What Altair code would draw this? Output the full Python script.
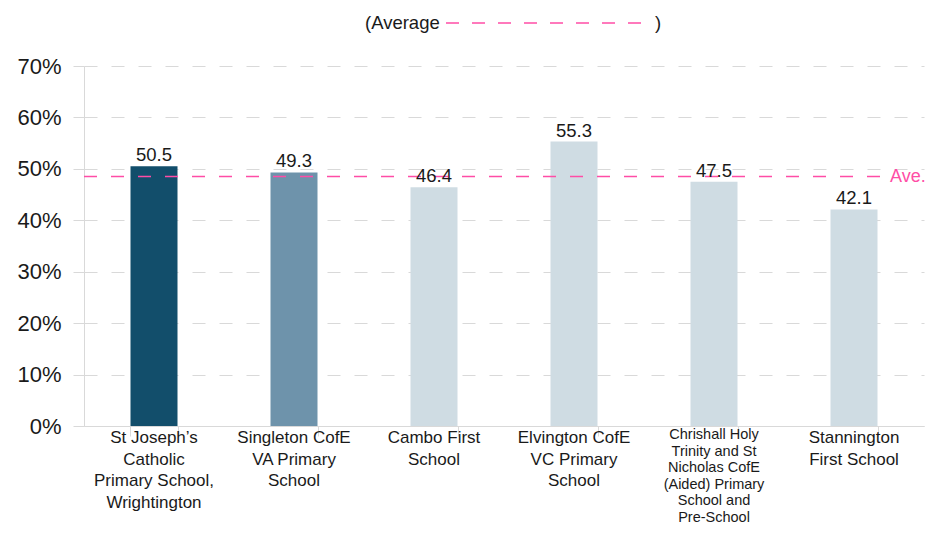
import altair as alt
import pandas as pd

schools = [
    "St Joseph’s Catholic Primary School, Wrightington",
    "Singleton CofE VA Primary School",
    "Cambo First School",
    "Elvington CofE VC Primary School",
    "Chrishall Holy Trinity and St Nicholas CofE (Aided) Primary School and Pre-School",
    "Stannington First School",
]
labels = [
    "St Joseph’s\nCatholic\nPrimary School,\nWrightington",
    "Singleton CofE\nVA Primary\nSchool",
    "Cambo First\nSchool",
    "Elvington CofE\nVC Primary\nSchool",
    "Chrishall Holy\nTrinity and St\nNicholas CofE\n(Aided) Primary\nSchool and\nPre-School",
    "Stannington\nFirst School",
]
values = [50.5, 49.3, 46.4, 55.3, 47.5, 42.1]
bar_colors = ["#124E6B", "#6E93AB", "#CFDCE3", "#CFDCE3", "#CFDCE3", "#CFDCE3"]
small_label = [False, False, False, False, True, False]
average = 48.5
y_ticks = [0, 10, 20, 30, 40, 50, 60, 70]

PINK = "#FF4DA6"
GRID = "#D9D9D9"
FONT = "Liberation Sans"
TXT = "#1a1a1a"

df = pd.DataFrame({
    "school": schools,
    "label": labels,
    "value": values,
    "color": bar_colors,
    "small": small_label,
})
avg_df = pd.DataFrame({"avg": [average]})

x_enc = alt.X(
    "school:N",
    sort=schools,
    scale=alt.Scale(paddingInner=0.664, paddingOuter=0.332),
    axis=alt.Axis(
        labels=False, title=None, tickBand="extent", ticks=True, tickSize=10,
        tickColor=GRID, domainColor=GRID, grid=False,
    ),
)
y_enc = alt.Y(
    "value:Q",
    scale=alt.Scale(domain=[0, 70], nice=False),
    axis=alt.Axis(
        values=y_ticks, labelExpr="datum.value + '%'", title=None,
        labelFontSize=22, labelColor=TXT, labelFont=FONT, labelPadding=12,
        tickSize=11, tickColor=GRID, domainColor=GRID,
        grid=True, gridColor=GRID, gridDash=[13, 14], gridWidth=1,
    ),
)

bars = alt.Chart(df).mark_bar(size=47).encode(
    x=x_enc,
    y=y_enc,
    color=alt.Color("color:N", scale=None),
)

bar_text = alt.Chart(df).mark_text(
    baseline="bottom", dy=-1, fontSize=18.5, font=FONT, color=TXT
).encode(
    x=alt.X("school:N", sort=schools),
    y=alt.Y("value:Q"),
    text=alt.Text("value:Q", format=".1f"),
)

xlab_big = alt.Chart(df).transform_filter("!datum.small").mark_text(
    baseline="top", fontSize=17, font=FONT, color=TXT, lineBreak="\n", lineHeight=21.5
).encode(
    x=alt.X("school:N", sort=schools),
    y=alt.value(364),
    text="label:N",
)
xlab_small = alt.Chart(df).transform_filter("datum.small").mark_text(
    baseline="top", fontSize=14.5, font=FONT, color=TXT, lineBreak="\n", lineHeight=16.6
).encode(
    x=alt.X("school:N", sort=schools),
    y=alt.value(362),
    text="label:N",
)

avg_rule = alt.Chart(avg_df).mark_rule(color=PINK, strokeDash=[13, 14], strokeWidth=1.4).encode(
    x=alt.value(0), x2=alt.value(800), y=alt.Y("avg:Q"),
)
avg_text = alt.Chart(avg_df).mark_text(
    align="left", baseline="middle", fontSize=18, font=FONT, color=PINK
).encode(
    x=alt.value(806), y=alt.Y("avg:Q"), text=alt.value("Ave."),
)

leg_open = alt.Chart(avg_df).mark_text(
    align="left", baseline="middle", fontSize=18.5, font=FONT, color=TXT
).encode(x=alt.value(281), y=alt.value(-43), text=alt.value("(Average"))
leg_line = alt.Chart(avg_df).mark_rule(color=PINK, strokeDash=[13, 13], strokeWidth=1.5).encode(
    x=alt.value(362), x2=alt.value(562), y=alt.value(-43),
)
leg_close = alt.Chart(avg_df).mark_text(
    align="left", baseline="middle", fontSize=18.5, font=FONT, color=TXT
).encode(x=alt.value(571), y=alt.value(-43), text=alt.value(")"))

chart = alt.layer(
    bars, avg_rule, bar_text, xlab_big, xlab_small, avg_text, leg_open, leg_line, leg_close
).properties(
    width=840, height=360,
    autosize=alt.AutoSizeParams(type="none"),
    padding={"left": 76, "top": 58, "right": 3, "bottom": 104},
).configure(font=FONT).configure_view(stroke=None)

chart.save("out.html", embed_options={"renderer": "svg", "actions": False})
